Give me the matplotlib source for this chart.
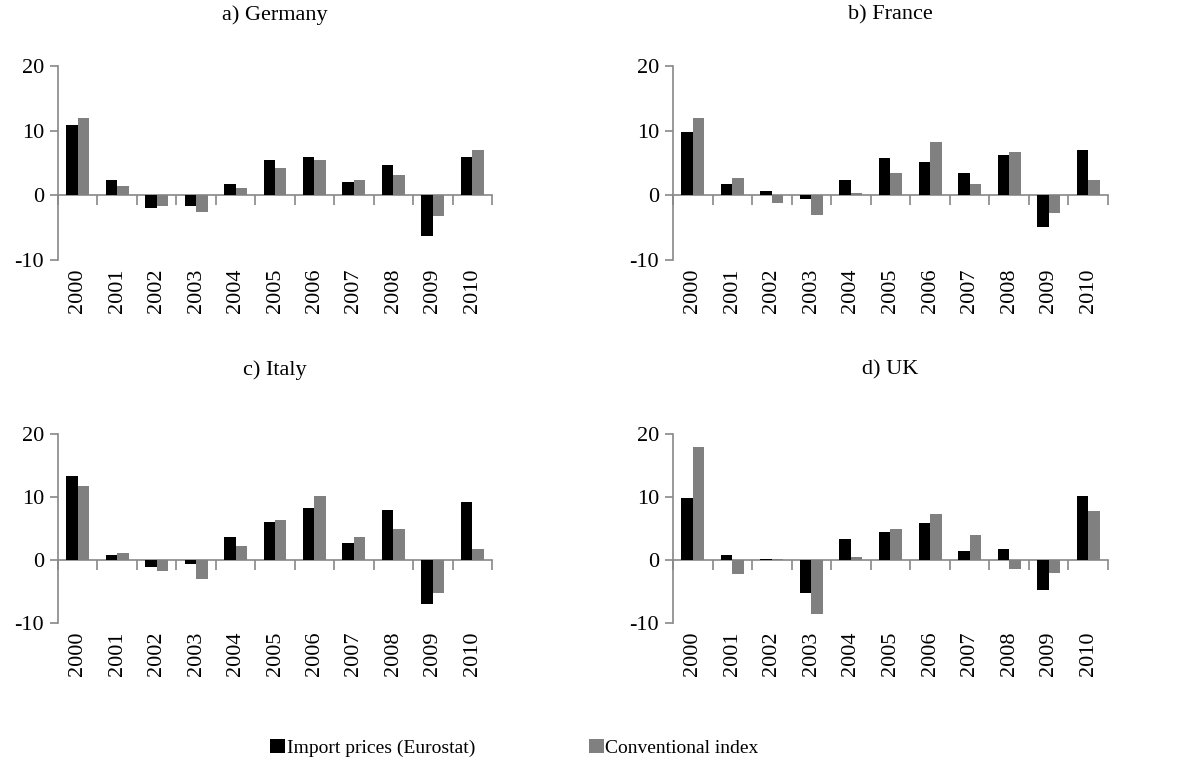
import numpy as np
import matplotlib.pyplot as plt

plt.rcParams['font.family'] = ['Liberation Serif', 'DejaVu Serif']
plt.rcParams['axes.unicode_minus'] = False

years = ['2000', '2001', '2002', '2003', '2004', '2005', '2006', '2007', '2008', '2009', '2010']

germany_import = [10.9, 2.3, -2.0, -1.7, 1.7, 5.4, 6.0, 2.0, 4.7, -6.3, 6.0]
germany_conv = [11.9, 1.4, -1.7, -2.6, 1.1, 4.2, 5.4, 2.3, 3.2, -3.2, 7.0]

france_import = [9.8, 1.7, 0.7, -0.5, 2.3, 5.7, 5.1, 3.5, 6.3, -4.9, 7.0]
france_conv = [11.9, 2.7, -1.2, -3.0, 0.4, 3.5, 8.2, 1.7, 6.7, -2.7, 2.3]

italy_import = [13.3, 0.8, -1.1, -0.7, 3.6, 6.1, 8.3, 2.7, 8.0, -7.0, 9.2]
italy_conv = [11.7, 1.1, -1.7, -3.0, 2.3, 6.4, 10.1, 3.6, 4.9, -5.2, 1.7]

uk_import = [9.8, 0.8, 0.2, -5.2, 3.3, 4.5, 5.8, 1.4, 1.7, -4.8, 10.2]
uk_conv = [17.9, -2.3, 0.1, -8.6, 0.4, 4.9, 7.3, 3.9, -1.4, -2.0, 7.7]

titles = ['a) Germany', 'b) France', 'c) Italy', 'd) UK']
series = [(germany_import, germany_conv), (france_import, france_conv),
          (italy_import, italy_conv), (uk_import, uk_conv)]

AXIS_GRAY = '#888888'
BAR_GRAY = '#808080'

fig = plt.figure(figsize=(11.79, 7.69), dpi=100)

# [left, bottom, width, height] in figure fractions
boxes = [
    [0.0492, 0.6619, 0.3681, 0.2523],
    [0.5708, 0.6619, 0.3690, 0.2523],
    [0.0492, 0.1899, 0.3681, 0.2457],
    [0.5708, 0.1899, 0.3690, 0.2457],
]
title_y = [1.263, 1.263, 1.339, 1.339]

x = np.arange(len(years))
w = 0.29

for i, ax_box in enumerate(boxes):
    ax = fig.add_axes(ax_box)
    imp, conv = series[i]
    b1 = ax.bar(x - w / 2, imp, w, color='black', label='Import prices (Eurostat)')
    b2 = ax.bar(x + w / 2, conv, w, color=BAR_GRAY, label='Conventional index')

    ax.set_xlim(-0.5, len(years) - 0.5)
    ax.set_ylim(-10, 20)
    ax.set_yticks([-10, 0, 10, 20])
    ax.tick_params(axis='y', labelsize=16, color=AXIS_GRAY, length=6, width=1.2, pad=4)
    ax.set_xticks(x)
    ax.set_xticklabels(years, rotation=90, fontsize=16)
    ax.tick_params(axis='x', length=0, pad=6)

    for s in ['top', 'right', 'bottom']:
        ax.spines[s].set_visible(False)
    ax.spines['left'].set_color(AXIS_GRAY)
    ax.spines['left'].set_linewidth(1.2)

    # category axis line at zero with ticks between the years
    zero_ax = ax.secondary_xaxis(1 / 3)
    zero_ax.set_xticks(np.arange(-0.5, len(years), 1.0))
    zero_ax.set_xticklabels([])
    zero_ax.tick_params(axis='x', direction='out', length=7, width=1.2, color=AXIS_GRAY)
    zero_ax.spines['bottom'].set_color(AXIS_GRAY)
    zero_ax.spines['bottom'].set_linewidth(1.2)

    ax.text(0.5, title_y[i], titles[i], transform=ax.transAxes,
            ha='center', va='center', fontsize=16)

fig.legend([b1, b2], ['Import prices (Eurostat)', 'Conventional index'],
           loc='center', bbox_to_anchor=(0.4364, 0.027), ncol=2, frameon=False,
           fontsize=14, handlelength=0.75, handleheight=0.75, handletextpad=0.1,
           columnspacing=5.85)

fig.savefig('out.png', dpi=100)
